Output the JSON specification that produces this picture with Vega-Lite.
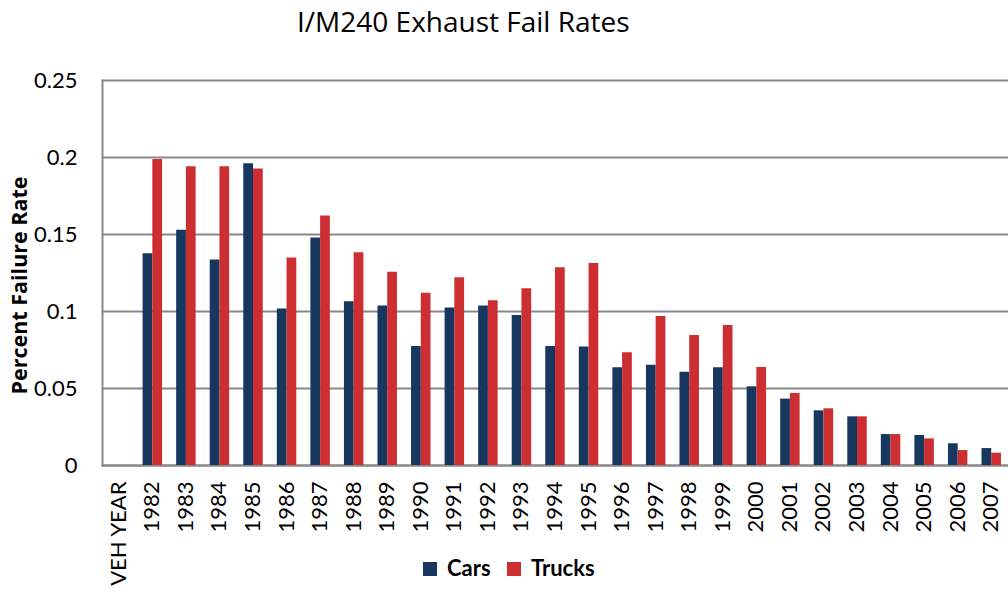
{
  "$schema": "https://vega.github.io/schema/vega-lite/v6.json",
  "width": 906,
  "height": 385,
  "autosize": {"type": "none"},
  "padding": {"left": 102, "top": 80, "right": 0, "bottom": 127},
  "background": "white",
  "title": {
    "text": "I/M240 Exhaust Fail Rates",
    "font": "Open Sans",
    "fontSize": 28,
    "fontWeight": "normal",
    "color": "#000000",
    "anchor": "start",
    "frame": "group",
    "dx": 195,
    "offset": 31
  },
  "data": {
    "values": [
      {"year": "1982", "type": "Cars", "rate": 0.1375}, {"year": "1982", "type": "Trucks", "rate": 0.1987},
      {"year": "1983", "type": "Cars", "rate": 0.1528}, {"year": "1983", "type": "Trucks", "rate": 0.1940},
      {"year": "1984", "type": "Cars", "rate": 0.1335}, {"year": "1984", "type": "Trucks", "rate": 0.1940},
      {"year": "1985", "type": "Cars", "rate": 0.1960}, {"year": "1985", "type": "Trucks", "rate": 0.1926},
      {"year": "1986", "type": "Cars", "rate": 0.1017}, {"year": "1986", "type": "Trucks", "rate": 0.1348},
      {"year": "1987", "type": "Cars", "rate": 0.1478}, {"year": "1987", "type": "Trucks", "rate": 0.1620},
      {"year": "1988", "type": "Cars", "rate": 0.1063}, {"year": "1988", "type": "Trucks", "rate": 0.1381},
      {"year": "1989", "type": "Cars", "rate": 0.1035}, {"year": "1989", "type": "Trucks", "rate": 0.1255},
      {"year": "1990", "type": "Cars", "rate": 0.0773}, {"year": "1990", "type": "Trucks", "rate": 0.1119},
      {"year": "1991", "type": "Cars", "rate": 0.1022}, {"year": "1991", "type": "Trucks", "rate": 0.1219},
      {"year": "1992", "type": "Cars", "rate": 0.1035}, {"year": "1992", "type": "Trucks", "rate": 0.1069},
      {"year": "1993", "type": "Cars", "rate": 0.0974}, {"year": "1993", "type": "Trucks", "rate": 0.1147},
      {"year": "1994", "type": "Cars", "rate": 0.0773}, {"year": "1994", "type": "Trucks", "rate": 0.1284},
      {"year": "1995", "type": "Cars", "rate": 0.0770}, {"year": "1995", "type": "Trucks", "rate": 0.1312},
      {"year": "1996", "type": "Cars", "rate": 0.0634}, {"year": "1996", "type": "Trucks", "rate": 0.0732},
      {"year": "1997", "type": "Cars", "rate": 0.0651}, {"year": "1997", "type": "Trucks", "rate": 0.0968},
      {"year": "1998", "type": "Cars", "rate": 0.0606}, {"year": "1998", "type": "Trucks", "rate": 0.0844},
      {"year": "1999", "type": "Cars", "rate": 0.0634}, {"year": "1999", "type": "Trucks", "rate": 0.0909},
      {"year": "2000", "type": "Cars", "rate": 0.0511}, {"year": "2000", "type": "Trucks", "rate": 0.0636},
      {"year": "2001", "type": "Cars", "rate": 0.0431}, {"year": "2001", "type": "Trucks", "rate": 0.0468},
      {"year": "2002", "type": "Cars", "rate": 0.0355}, {"year": "2002", "type": "Trucks", "rate": 0.0368},
      {"year": "2003", "type": "Cars", "rate": 0.0316}, {"year": "2003", "type": "Trucks", "rate": 0.0316},
      {"year": "2004", "type": "Cars", "rate": 0.0201}, {"year": "2004", "type": "Trucks", "rate": 0.0201},
      {"year": "2005", "type": "Cars", "rate": 0.0195}, {"year": "2005", "type": "Trucks", "rate": 0.0173},
      {"year": "2006", "type": "Cars", "rate": 0.0141}, {"year": "2006", "type": "Trucks", "rate": 0.0097},
      {"year": "2007", "type": "Cars", "rate": 0.0110}, {"year": "2007", "type": "Trucks", "rate": 0.0080}
    ]
  },
  "mark": {"type": "bar"},
  "encoding": {
    "x": {
      "field": "year",
      "type": "nominal",
      "sort": null,
      "scale": {
        "domain": ["VEH YEAR", "1982", "1983", "1984", "1985", "1986", "1987", "1988", "1989", "1990", "1991", "1992", "1993", "1994", "1995", "1996", "1997", "1998", "1999", "2000", "2001", "2002", "2003", "2004", "2005", "2006", "2007"],
        "paddingInner": 0.42,
        "paddingOuter": 0.21
      },
      "axis": {
        "title": null,
        "labelAngle": -90,
        "labelAlign": "right",
        "labelBaseline": "middle",
        "labelFont": "Lato",
        "labelFontSize": 22,
        "labelColor": "#000000",
        "labelPadding": 16,
        "ticks": false,
        "domainColor": "#888888",
        "domainWidth": 2,
        "grid": false
      }
    },
    "xOffset": {
      "field": "type",
      "type": "nominal",
      "scale": {"domain": ["Cars", "Trucks"], "paddingInner": 0, "paddingOuter": 0}
    },
    "y": {
      "field": "rate",
      "type": "quantitative",
      "scale": {"domain": [0, 0.25], "nice": false},
      "axis": {
        "title": "Percent Failure Rate",
        "titleFont": "Open Sans",
        "titleFontSize": 21.5,
        "titleFontWeight": "bold",
        "titleColor": "#000000",
        "titleAngle": -90,
        "titleX": -82,
        "titleY": 205,
        "titleAlign": "center",
        "titleBaseline": "middle",
        "values": [0, 0.05, 0.1, 0.15, 0.2, 0.25],
        "format": "~g",
        "labelFont": "Lato",
        "labelFontSize": 22,
        "labelColor": "#000000",
        "labelPadding": 25,
        "ticks": false,
        "domainColor": "#888888",
        "domainWidth": 2,
        "grid": true,
        "gridColor": "#888888",
        "gridWidth": 2
      }
    },
    "color": {
      "field": "type",
      "type": "nominal",
      "scale": {"domain": ["Cars", "Trucks"], "range": ["#17375E", "#CC2E32"]},
      "legend": {
        "title": null,
        "orient": "none",
        "direction": "horizontal",
        "legendX": 317,
        "legendY": 478,
        "symbolType": "square",
        "symbolSize": 196,
        "symbolStrokeWidth": 0,
        "symbolOpacity": 1,
        "labelFont": "Lato",
        "labelFontSize": 22,
        "labelFontWeight": "bold",
        "labelColor": "#000000",
        "labelOffset": 6,
        "columnPadding": 12
      }
    }
  },
  "config": {
    "view": {"stroke": null},
    "axis": {"domainCap": "square"}
  }
}
